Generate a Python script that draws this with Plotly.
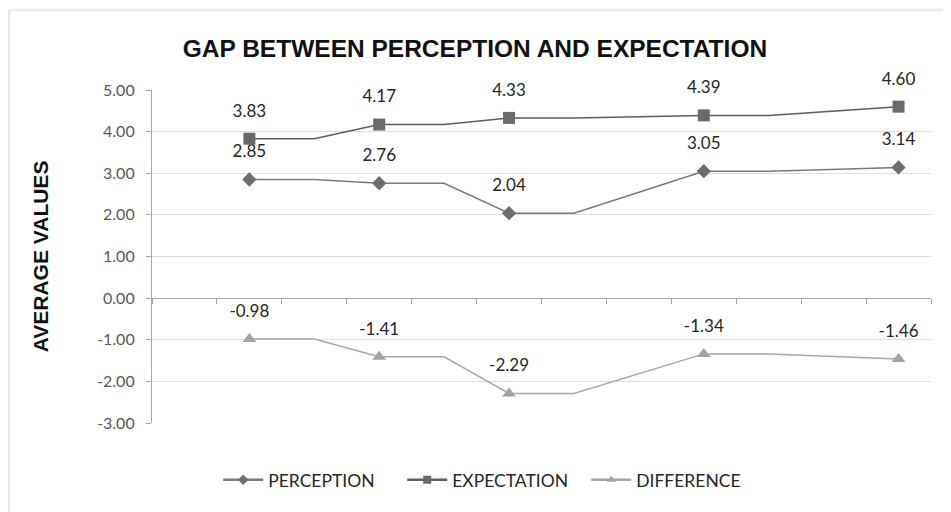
import plotly.graph_objects as go

# 12 category slots on the x axis (no labels shown)
categories = list(range(1, 13))

# series values per category slot (None = empty slot, line connects across)
perception = [None, 2.85, 2.85, 2.76, 2.76, 2.04, 2.04, None, 3.05, 3.05, None, 3.14]
expectation = [None, 3.83, 3.83, 4.17, 4.17, 4.33, 4.33, None, 4.39, 4.39, None, 4.60]
difference = [None, -0.98, -0.98, -1.41, -1.41, -2.29, -2.29, None, -1.34, -1.34, None, -1.46]

# slots that carry a marker and a data label
point_slots = [2, 4, 6, 9, 12]

y_ticks = [5, 4, 3, 2, 1, 0, -1, -2, -3]

series = [
    ("PERCEPTION", perception, "diamond", 11, "#6e6e6e", "#7a7a7a", 8),
    ("EXPECTATION", expectation, "square", 12, "#6a6a6a", "#5e5e5e", 8),
    ("DIFFERENCE", difference, "triangle-up", 12, "#a3a3a3", "#a8a8a8", 8),
]

LABEL_FONT = "Lato, Open Sans, sans-serif"
BOLD_FONT = "Liberation Sans, Arial, sans-serif"

fig = go.Figure()
for name, vals, sym, size, mcol, lcol, lsize in series:
    # line through all slots
    fig.add_trace(go.Scatter(
        x=categories, y=vals, mode="lines", connectgaps=True,
        line=dict(color=lcol, width=1.5), showlegend=False, hoverinfo="skip"))
    px = [c for c in categories if c in point_slots]
    py = [vals[c - 1] for c in px]
    # data labels (spaced above the markers by an invisible larger marker)
    fig.add_trace(go.Scatter(
        x=px, y=py, mode="markers+text",
        marker=dict(symbol="circle", size=27, opacity=0),
        text=[f"{v:.2f}" for v in py], textposition="top center",
        textfont=dict(family=LABEL_FONT, size=17, color="#262626"),
        cliponaxis=False, showlegend=False, hoverinfo="skip"))
    # visible markers
    fig.add_trace(go.Scatter(
        x=px, y=py, mode="markers",
        marker=dict(symbol=sym, size=size, color=mcol),
        showlegend=False))
    # legend entry
    fig.add_trace(go.Scatter(
        x=[None], y=[None], mode="lines+markers", name=name,
        line=dict(color=lcol, width=2.5),
        marker=dict(symbol=sym, size=lsize, color=mcol)))

fig.update_layout(
    width=951, height=512,
    margin=dict(l=144, r=28, t=82, b=97),
    paper_bgcolor="white", plot_bgcolor="white",
    title=dict(text="<b>GAP BETWEEN PERCEPTION AND EXPECTATION</b>",
               x=0.491, xref="container", xanchor="center",
               y=0.922, yref="container", yanchor="middle",
               font=dict(family=BOLD_FONT, size=24.5, color="#111111")),
    showlegend=True,
    legend=dict(orientation="h", x=0.085, xanchor="left", y=-0.171, yanchor="middle",
                font=dict(family=LABEL_FONT, size=17.5, color="#262626"),
                itemwidth=40, entrywidth=129, entrywidthmode="pixels",
                bgcolor="rgba(0,0,0,0)"),
    xaxis=dict(range=[0.5, 12.5], tickmode="array",
               tickvals=[c - 0.5 for c in categories] + [12.5],
               ticktext=[""] * 13, ticks="outside", ticklen=5, tickcolor="#a6a6a6",
               showgrid=False, showline=True, linecolor="#a6a6a6", linewidth=1.2,
               zeroline=False, anchor="free", position=0.375),
    yaxis=dict(range=[-3, 5], tickmode="array", tickvals=y_ticks,
               ticktext=[f"{v:.2f}" for v in y_ticks],
               ticks="outside", ticklen=5, tickcolor="#a6a6a6", ticklabelstandoff=8,
               showline=True, linecolor="#a6a6a6", linewidth=1.2,
               showgrid=True, gridcolor="#dedede", gridwidth=1, zeroline=False,
               tickfont=dict(family=LABEL_FONT, size=16, color="#595959"),
               title=dict(text="<b>AVERAGE VALUES</b>", standoff=42,
                          font=dict(family=BOLD_FONT, size=21, color="#111111"))),
)

# light frame of the chart area (left and top edges)
fig.add_shape(type="line", xref="paper", yref="paper", x0=-0.1836, x1=-0.1836, y0=1.24, y1=-0.3,
              line=dict(color="#e6e6e6", width=2.5))
fig.add_shape(type="line", xref="paper", yref="paper", x0=-0.1836, x1=1.04, y0=1.24, y1=1.24,
              line=dict(color="#ececec", width=2.5))

fig.write_html("out.html")
